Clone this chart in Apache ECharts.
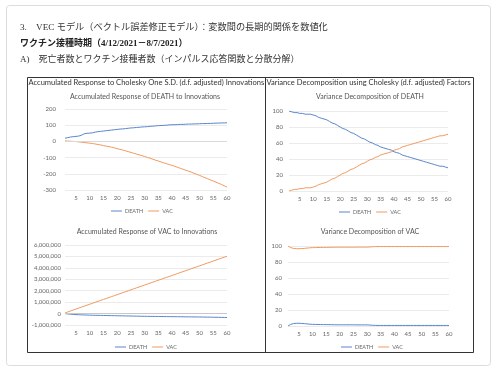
<!DOCTYPE html>
<html>
<head>
<meta charset="utf-8">
<script src="https://cdn.jsdelivr.net/npm/echarts@6/dist/echarts.min.js"></script>
<style>
html,body{margin:0;padding:0;background:#fff;}
#c{width:497px;height:373px;}
</style>
</head>
<body>
<div id="c"></div>
<script>
// ---- Data ----
var periods = [1,2,3,4,5,6,7,8,9,10,11,12,13,14,15,16,17,18,19,20,21,22,23,24,25,26,27,28,29,30,31,32,33,34,35,36,37,38,39,40,41,42,43,44,45,46,47,48,49,50,51,52,53,54,55,56,57,58,59,60];
var seriesNames = ['DEATH','VAC'];

// Accumulated Response of DEATH to Innovations
var accDeath_DEATH = [20,23,27,29,31,33,38,47,50,51,53,57,60,62,64,66,68,70,72,74,76,77,79,81,83,84,86,87,89,90,91,93,94,96,97,98,99,100,102,103,103,104,105,105,106,107,107,108,108,109,110,110,111,111,112,113,113,114,114,115];
var accDeath_VAC = [3,2,1,0,-1,-3,-5,-7,-9,-11,-13,-16,-19,-22,-26,-29,-32,-36,-40,-45,-49,-53,-58,-63,-68,-73,-78,-83,-88,-93,-99,-104,-110,-116,-121,-127,-133,-138,-143,-148,-154,-160,-166,-172,-178,-184,-190,-197,-203,-210,-217,-224,-231,-238,-245,-252,-259,-266,-274,-282];

// Variance Decomposition of DEATH
var vdDeath_DEATH = [100,99,98,98,97,97,96,96,96,95,94,92,91,90,89,87,85,84,82,80,78,77,75,73,72,70,68,66,65,63,61,60,58,57,55,54,53,52,51,49,48,47,45,44,43,42,41,40,39,38,37,36,35,34,33,32,31,31,30,29];
var vdDeath_VAC = [0,1,2,2,3,3,4,4,4,5,6,8,9,10,11,13,15,16,18,20,22,23,25,27,28,30,32,34,35,37,39,40,42,43,45,46,47,48,49,51,52,53,55,56,57,58,59,60,61,62,63,64,65,66,67,68,69,69,70,71];

// Accumulated Response of VAC to Innovations
var accVac_DEATH = [0,-30000,-55000,-75000,-90000,-100000,-110000,-120000,-130000,-140000,-145000,-150000,-155000,-160000,-165000,-170000,-175000,-180000,-185000,-190000,-195000,-200000,-205000,-210000,-215000,-220000,-225000,-230000,-235000,-240000,-243000,-246000,-249000,-252000,-255000,-258000,-261000,-264000,-267000,-270000,-273000,-276000,-279000,-282000,-285000,-288000,-291000,-294000,-297000,-300000,-304000,-308000,-312000,-316000,-320000,-325000,-330000,-335000,-340000,-345000];
var accVac_VAC = [50000,140000,225000,310000,395000,480000,565000,650000,735000,815000,900000,985000,1070000,1150000,1235000,1320000,1405000,1490000,1570000,1655000,1740000,1825000,1910000,1990000,2075000,2160000,2245000,2330000,2410000,2495000,2580000,2665000,2750000,2830000,2915000,3000000,3085000,3170000,3250000,3335000,3420000,3505000,3590000,3670000,3755000,3840000,3925000,4010000,4090000,4175000,4260000,4345000,4430000,4510000,4595000,4680000,4765000,4850000,4930000,5015000];

// Variance Decomposition of VAC
var vdVac_DEATH = [0,2,3,3.4,3.4,3.2,3,2.6,2.3,2,2,1.9,1.8,1.8,1.7,1.7,1.6,1.6,1.5,1.5,1.5,1.5,1.5,1.5,1.5,1.4,1.4,1.4,1.4,1.4,1.2,0.9,0.8,0.7,0.7,0.7,0.7,0.7,0.7,0.7,0.7,0.7,0.7,0.7,0.7,0.7,0.7,0.7,0.7,0.7,0.7,0.7,0.7,0.7,0.7,0.7,0.7,0.7,0.7,0.7];
var vdVac_VAC = [100,98,97,96.6,96.6,96.8,97,97.4,97.7,98,98,98.1,98.2,98.2,98.3,98.3,98.4,98.4,98.5,98.5,98.5,98.5,98.5,98.5,98.5,98.6,98.6,98.6,98.6,98.6,98.8,99.1,99.2,99.3,99.3,99.3,99.3,99.3,99.3,99.3,99.3,99.3,99.3,99.3,99.3,99.3,99.3,99.3,99.3,99.3,99.3,99.3,99.3,99.3,99.3,99.3,99.3,99.3,99.3,99.3];

// Axis settings (tick values)
var yAxis1 = {min:-300, max:200, interval:100};
var yAxis2 = {min:0, max:100, interval:20};
var yAxis3 = {min:-1000000, max:6000000, interval:1000000};
var yAxis4 = {min:0, max:100, interval:20};

var headingLine1 = '3.\u3000VEC モデル（ベクトル誤差修正モデル）：変数間の長期的関係を数値化';
var headingLine2 = 'ワクチン接種時期（4/12/2021－8/7/2021）';
var headingLine3 = 'A)\u3000死亡者数とワクチン接種者数（インパルス応答関数と分散分解）';
var colHeaderLeft = 'Accumulated Response to Cholesky One S.D. (d.f. adjusted) Innovations';
var colHeaderRight = 'Variance Decomposition using Cholesky (d.f. adjusted) Factors';
var chartTitles = ['Accumulated Response of DEATH to Innovations','Variance Decomposition of DEATH','Accumulated Response of VAC to Innovations','Variance Decomposition of VAC'];

// ---- Chart ----
var BLUE = '#5A86CC';
var ORANGE = '#F09A5E';
var FONT = 'Lato, "Liberation Sans", sans-serif';
var JFONT = '"Liberation Serif", "Noto Sans CJK JP", serif';

var grids = [
  {left:65, top:109, width:162, height:81},
  {left:289, top:111, width:159, height:80},
  {left:65, top:245, width:162, height:80},
  {left:288, top:246, width:161, height:80}
];
var yCfg = [yAxis1, yAxis2, yAxis3, yAxis4];
var yMargin = [9, 6, 4, 6];
var data = [
  [accDeath_DEATH, accDeath_VAC],
  [vdDeath_DEATH, vdDeath_VAC],
  [accVac_DEATH, accVac_VAC],
  [vdVac_DEATH, vdVac_VAC]
];
var legendPos = [{left:111, top:208},{left:339, top:209},{left:115, top:344},{left:341, top:344}];
var titlePos = [[145,97],[370,97],[147,232],[370,232]];

var xAxes = [], yAxes = [], series = [], legends = [];
for (var i = 0; i < 4; i++) {
  xAxes.push({
    type:'category', gridIndex:i, data:periods, boundaryGap:false,
    axisTick:{show:false}, axisLine:{show:false},
    axisLabel:{interval:function(idx){return (idx+1)%5===0;}, fontSize:6, color:'#666', margin:5, fontFamily:FONT},
    splitLine:{show:false}
  });
  yAxes.push({
    type:'value', gridIndex:i, min:yCfg[i].min, max:yCfg[i].max, interval:yCfg[i].interval,
    axisTick:{show:false}, axisLine:{show:false},
    axisLabel:{fontSize:6, color:'#666', margin:yMargin[i], fontFamily:FONT,
      formatter:function(v){return v.toLocaleString('en-US');}},
    splitLine:{lineStyle:{color:'#EBEBEB', width:1}}
  });
  for (var s = 0; s < 2; s++) {
    var ser = {
      type:'line', name:seriesNames[s], xAxisIndex:i, yAxisIndex:i,
      data:data[i][s], symbol:'none', showSymbol:false,
      lineStyle:{width:1, color: s===0?BLUE:ORANGE},
      itemStyle:{color: s===0?BLUE:ORANGE},
      z: s===0?3:2, silent:true
    };
    if ((i===0 || i===2) && s===0) {
      ser.markLine = {silent:true, symbol:'none', label:{show:false},
        lineStyle:{color: i===2?'#C8C8C8':'#DADADA', type:'solid', width:1},
        data:[{yAxis:0}]};
    }
    series.push(ser);
  }
  legends.push({
    left:legendPos[i].left, top:legendPos[i].top, orient:'horizontal',
    data:seriesNames, icon:'rect', itemWidth:11, itemHeight:1, itemGap:5, padding:0,
    selectedMode:false,
    textStyle:{fontSize:5.5, color:'#666', fontFamily:FONT, padding:[0,0,0,-2]}
  });
}

var graphics = [
  {type:'rect', shape:{x:6.5, y:5.5, width:484, height:360, r:3}, style:{fill:'#fff', stroke:'#DCDCDC', lineWidth:1}, z:-10},
  {type:'text', x:20, y:28, style:{text:headingLine1, fontSize:9.2, fontFamily:JFONT, fill:'#333', textVerticalAlign:'middle'}},
  {type:'text', x:20, y:44, style:{text:headingLine2, fontSize:9, fontWeight:'bold', fontFamily:JFONT, fill:'#222', textVerticalAlign:'middle'}},
  {type:'text', x:20, y:60, style:{text:headingLine3, fontSize:9, fontFamily:JFONT, fill:'#333', textVerticalAlign:'middle'}},
  {type:'rect', shape:{x:27.5, y:77.5, width:446, height:275}, style:{fill:'none', stroke:'#333', lineWidth:1}, z:5},
  {type:'line', shape:{x1:265.5, y1:77.5, x2:265.5, y2:352.5}, style:{stroke:'#333', lineWidth:1}, z:5},
  {type:'text', x:28.5, y:82.5, style:{text:colHeaderLeft, fontSize:7.55, fontFamily:FONT, fill:'#333', textVerticalAlign:'middle'}},
  {type:'text', x:266.5, y:82.5, style:{text:colHeaderRight, fontSize:7.55, fontFamily:FONT, fill:'#333', textVerticalAlign:'middle'}}
];
for (var t = 0; t < 4; t++) {
  graphics.push({type:'text', x:titlePos[t][0], y:titlePos[t][1], style:{text:chartTitles[t], fontSize:7, fontFamily:FONT, fill:'#555', textAlign:'center', textVerticalAlign:'middle'}});
}

var chart = echarts.init(document.getElementById('c'));
chart.setOption({
  animation:false,
  backgroundColor:'#fff',
  grid:grids,
  xAxis:xAxes,
  yAxis:yAxes,
  legend:legends,
  series:series,
  graphic:graphics
});
</script>
</body>
</html>
